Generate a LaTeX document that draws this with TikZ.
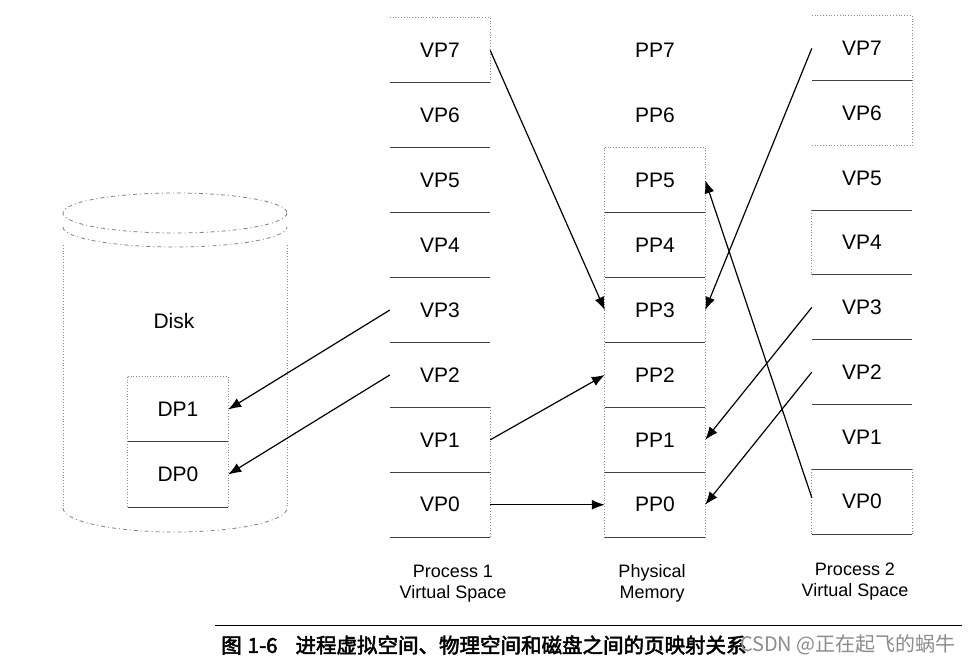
\documentclass[tikz,border=0pt]{standalone}
\usepackage{fontspec}
\setmainfont{Liberation Sans}
\newfontfamily\cjk{Noto Sans CJK SC}
\newfontfamily\cjkb{Noto Sans CJK SC}[FakeBold=2.5]
\usetikzlibrary{arrows.meta}
\begin{document}
\begin{tikzpicture}[x=1pt,y=-1pt,
  cell/.style={rectangle,inner sep=0pt,minimum width=100pt,minimum height=64.9pt,font=\fontsize{21}{24}\selectfont},
  sepline/.style={draw=black!75,line width=0.9pt},
  dotline/.style={draw=black!45,line width=0.8pt,dotted},
  diskline/.style={draw=black!50,line width=0.8pt,dash pattern=on 4pt off 3pt on 1pt off 3pt},
  link/.style={draw=black,line width=1.2pt,-{Latex[length=13pt,width=10pt]}},
  collabel/.style={align=center,font=\fontsize{18}{21}\selectfont,inner sep=0pt}
]
\useasboundingbox (0,0) rectangle (969,663);
\fill[white] (0,0) rectangle (969,663);

% ---------- Disk cylinder ----------
\draw[diskline] (175,213) ellipse [x radius=112, y radius=20];
\draw[diskline] (63,227) arc [start angle=180, end angle=0, x radius=112, y radius=20];
\draw[dotline] (63,245) -- (63,508);
\draw[dotline] (287,245) -- (287,508);
\draw[diskline] (63,508) arc [start angle=180, end angle=0, x radius=112, y radius=24];
\node[cell] (disk) at (174,321) {Disk};

% disk pages
\node[cell,minimum height=65pt,fill=white] (dp1) at (178,409.5) {DP1};
\node[cell,minimum height=65pt,fill=white] (dp0) at (178,474.5) {DP0};
\draw[dotline] (dp1.north west) -- (dp1.north east);
\draw[sepline] (dp0.north west) -- (dp0.north east);
\draw[sepline] (dp0.south west) -- (dp0.south east);
\draw[dotline] (dp1.north west) -- (dp0.south west);
\draw[dotline] (dp1.north east) -- (dp0.south east);

% ---------- Columns ----------
\foreach \i in {0,...,7}{
  \pgfmathsetmacro{\ya}{18+64.9*(7-\i)+32.45}
  \pgfmathsetmacro{\yb}{16+64.75*(7-\i)+32.4}
  \node[cell] (p1v\i) at (440,\ya) {VP\i};
  \node[cell] (pm\i) at (655,\ya) {PP\i};
  \node[cell,minimum height=64.75pt] (p2v\i) at (862,\yb) {VP\i};
}

% Process 1 lines
\draw[dotline] (p1v7.north west) -- (p1v7.north east);
\foreach \i in {0,...,6}{\draw[sepline] (p1v\i.north west) -- (p1v\i.north east);}
\draw[sepline] (p1v0.south west) -- (p1v0.south east);
\draw[dotline] (p1v7.north east) -- (p1v7.south east);
\draw[dotline] (p1v1.north east) -- (p1v0.south east);

% Physical memory lines
\draw[dotline] (pm5.north west) -- (pm5.north east);
\foreach \i in {0,...,4}{\draw[sepline] (pm\i.north west) -- (pm\i.north east);}
\draw[sepline] (pm0.south west) -- (pm0.south east);
\draw[dotline] (pm5.north west) -- (pm0.south west);
\draw[dotline] (pm5.north east) -- (pm0.south east);

% Process 2 lines
\draw[dotline] (p2v7.north west) -- (p2v7.north east);
\draw[dotline] (p2v5.north west) -- (p2v5.north east);
\foreach \i in {0,1,2,3,4,6}{\draw[sepline] (p2v\i.north west) -- (p2v\i.north east);}
\draw[sepline] (p2v0.south west) -- (p2v0.south east);
\draw[dotline] (p2v7.north east) -- (p2v6.south east);
\draw[dotline] (p2v4.north west) -- (p2v4.south west);
\draw[dotline] (p2v0.north west) -- (p2v0.south west);
\draw[dotline] (p2v0.north east) -- (p2v0.south east);

% ---------- Mapping arrows ----------
\draw[link] (p1v7.east) -- (pm3.west);
\draw[link] (p1v3.west) -- (dp1.east);
\draw[link] (p1v2.west) -- (dp0.east);
\draw[link] (p1v1.east) -- (pm2.west);
\draw[link] (p1v0.east) -- (pm0.west);
\draw[link] (p2v7.west) -- (pm3.east);
\draw[link] (p2v3.west) -- (pm1.east);
\draw[link] (p2v2.west) -- (pm0.east);
\draw[link] ([yshift=4pt]p2v0.west) -- (pm5.east);

% ---------- Column labels ----------
\node[collabel] (lab1) at (453,584) {Process 1\\Virtual Space};
\node[collabel] (labm) at (652,583) {Physical\\Memory};
\node[collabel] (lab2) at (855,582) {Process 2\\Virtual Space};

% ---------- Caption ----------
\draw[line width=1pt] (215,625) -- (962,625);
\node[anchor=west,inner sep=0pt,font=\fontsize{20.5}{24}\selectfont] (cap) at (221,645)
  {\cjkb 图\hspace{6pt}1-6\hspace{18pt}进程虚拟空间、物理空间和磁盘之间的页映射关系};
\node[anchor=east,inner sep=0pt,text=black!45,font=\fontsize{20}{24}\selectfont] (wm) at (956,645)
  {\cjk CSDN @正在起飞的蜗牛};
\end{tikzpicture}
\end{document}
